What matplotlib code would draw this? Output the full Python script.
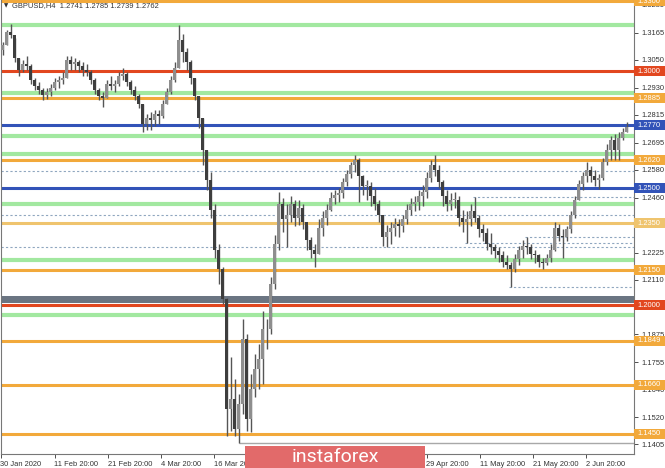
import matplotlib.pyplot as plt
import matplotlib.transforms as mtransforms
from matplotlib.patches import Rectangle

# GBPUSD H4, 30 Jan - 9 Jun 2020 (one candle per ~4 px of the picture)
highs = [1.3127, 1.3178, 1.3203, 1.3144, 1.3058, 1.3050, 1.3067, 1.3033, 1.2973, 1.2956,
         1.2930, 1.2930, 1.2947, 1.2973, 1.2981, 1.2999, 1.3067, 1.3067, 1.3058, 1.3050,
         1.3041, 1.3033, 1.3007, 1.2973, 1.2930, 1.2913, 1.2964, 1.2981, 1.2964, 1.2999,
         1.3016, 1.2999, 1.2964, 1.2939, 1.2905, 1.2862, 1.2819, 1.2828, 1.2836, 1.2836,
         1.2879, 1.2930, 1.2981, 1.3041, 1.3199, 1.3161, 1.3101, 1.3050, 1.2973, 1.2896,
         1.2802, 1.2665, 1.2571, 1.2431, 1.2260, 1.2162, 1.2033, 1.1777, 1.1683, 1.1619,
         1.1940, 1.1875, 1.1705, 1.1790, 1.1833, 1.1974, 1.1940, 1.2119, 1.2302, 1.2486,
         1.2460, 1.2431, 1.2469, 1.2452, 1.2452, 1.2431, 1.2345, 1.2290, 1.2260, 1.2367,
         1.2401, 1.2431, 1.2486, 1.2495, 1.2503, 1.2546, 1.2580, 1.2614, 1.2644, 1.2631,
         1.2559, 1.2537, 1.2529, 1.2503, 1.2452, 1.2388, 1.2345, 1.2358, 1.2375, 1.2367,
         1.2388, 1.2435, 1.2460, 1.2469, 1.2495, 1.2516, 1.2571, 1.2623, 1.2644, 1.2601,
         1.2537, 1.2495, 1.2478, 1.2486, 1.2469, 1.2409, 1.2401, 1.2431, 1.2465, 1.2384,
         1.2349, 1.2332, 1.2307, 1.2264, 1.2247, 1.2230, 1.2213, 1.2187, 1.2217, 1.2255,
         1.2281, 1.2294, 1.2264, 1.2238, 1.2221, 1.2204, 1.2221, 1.2264, 1.2358, 1.2349,
         1.2324, 1.2341, 1.2401, 1.2469, 1.2537, 1.2571, 1.2614, 1.2597, 1.2580, 1.2563,
         1.2631, 1.2691, 1.2725, 1.2734, 1.2742, 1.2759, 1.2785]
lows = [1.3071, 1.3114, 1.3144, 1.3041, 1.2981, 1.2999, 1.3007, 1.2947, 1.2922, 1.2905,
        1.2879, 1.2883, 1.2896, 1.2922, 1.2930, 1.2947, 1.2973, 1.3007, 1.3007, 1.2999,
        1.2981, 1.2981, 1.2947, 1.2905, 1.2879, 1.2849, 1.2887, 1.2922, 1.2913, 1.2939,
        1.2964, 1.2939, 1.2905, 1.2879, 1.2845, 1.2742, 1.2751, 1.2751, 1.2768, 1.2776,
        1.2802, 1.2862, 1.2905, 1.2956, 1.3016, 1.3041, 1.3007, 1.2947, 1.2879, 1.2759,
        1.2601, 1.2495, 1.2375, 1.2204, 1.2089, 1.2004, 1.1440, 1.1461, 1.1440, 1.1409,
        1.1534, 1.1461, 1.1457, 1.1606, 1.1641, 1.1662, 1.1811, 1.1875, 1.2068, 1.2238,
        1.2315, 1.2247, 1.2358, 1.2341, 1.2345, 1.2324, 1.2238, 1.2204, 1.2162, 1.2217,
        1.2298, 1.2345, 1.2401, 1.2431, 1.2443, 1.2460, 1.2512, 1.2546, 1.2571, 1.2443,
        1.2473, 1.2452, 1.2426, 1.2409, 1.2358, 1.2255, 1.2247, 1.2260, 1.2298, 1.2290,
        1.2315, 1.2349, 1.2384, 1.2401, 1.2409, 1.2426, 1.2460, 1.2529, 1.2554, 1.2503,
        1.2426, 1.2401, 1.2409, 1.2418, 1.2341, 1.2315, 1.2268, 1.2341, 1.2358, 1.2290,
        1.2273, 1.2238, 1.2221, 1.2204, 1.2187, 1.2162, 1.2153, 1.2076, 1.2144, 1.2170,
        1.2204, 1.2221, 1.2196, 1.2179, 1.2162, 1.2157, 1.2170, 1.2187, 1.2230, 1.2273,
        1.2204, 1.2273, 1.2307, 1.2375, 1.2452, 1.2495, 1.2529, 1.2529, 1.2512, 1.2499,
        1.2537, 1.2601, 1.2623, 1.2623, 1.2623, 1.2708, 1.2739]
closes = [1.3114, 1.3169, 1.3156, 1.3058, 1.3007, 1.3033, 1.3024, 1.2964, 1.2939, 1.2922,
          1.2900, 1.2913, 1.2930, 1.2956, 1.2964, 1.2973, 1.3050, 1.3033, 1.3041, 1.3024,
          1.3007, 1.2999, 1.2964, 1.2922, 1.2896, 1.2887, 1.2947, 1.2939, 1.2947, 1.2981,
          1.2990, 1.2956, 1.2922, 1.2896, 1.2862, 1.2776, 1.2802, 1.2794, 1.2819, 1.2811,
          1.2862, 1.2913, 1.2964, 1.3016, 1.3135, 1.3084, 1.3041, 1.2973, 1.2896, 1.2802,
          1.2665, 1.2537, 1.2409, 1.2238, 1.2153, 1.2025, 1.1555, 1.1598, 1.1470, 1.1577,
          1.1854, 1.1512, 1.1641, 1.1726, 1.1769, 1.1897, 1.1897, 1.2089, 1.2260, 1.2431,
          1.2367, 1.2388, 1.2431, 1.2375, 1.2418, 1.2358, 1.2281, 1.2238, 1.2217, 1.2332,
          1.2375, 1.2409, 1.2460, 1.2473, 1.2478, 1.2529, 1.2563, 1.2601, 1.2623, 1.2554,
          1.2512, 1.2512, 1.2469, 1.2435, 1.2388, 1.2290, 1.2315, 1.2332, 1.2349, 1.2341,
          1.2367, 1.2409, 1.2435, 1.2443, 1.2469, 1.2486, 1.2546, 1.2601, 1.2580, 1.2529,
          1.2469, 1.2435, 1.2452, 1.2452, 1.2375, 1.2358, 1.2367, 1.2401, 1.2375, 1.2324,
          1.2307, 1.2264, 1.2247, 1.2230, 1.2213, 1.2187, 1.2170, 1.2153, 1.2196, 1.2238,
          1.2255, 1.2247, 1.2221, 1.2213, 1.2187, 1.2179, 1.2204, 1.2238, 1.2332, 1.2298,
          1.2290, 1.2324, 1.2384, 1.2452, 1.2520, 1.2554, 1.2580, 1.2554, 1.2537, 1.2546,
          1.2614, 1.2665, 1.2708, 1.2665, 1.2717, 1.2741, 1.2762]
first_open = 1.3092

# support / resistance levels
orange_levels = [1.3300, 1.2885, 1.2620, 1.2350, 1.2150, 1.1849, 1.1660, 1.1450]
red_levels = [1.3000, 1.2000]
blue_levels = [1.2770, 1.2500]
green_levels = [1.3200, 1.2910, 1.2725, 1.2648, 1.2435, 1.2195, 1.1960]
dotted_levels = [1.2576, 1.2384, 1.2251, 1.2465, 1.2268, 1.2294, 1.2076]
dotted_start = [0, 0, 0, 118, 116, 131, 127]
band_low, band_high = 1.2008, 1.2038
march_low, march_low_bar = 1.1409, 59

# scale ticks that are not hidden by the level boxes
price_ticks = [1.3285, 1.3165, 1.3050, 1.2930, 1.2815, 1.2695, 1.2580, 1.2460,
               1.2225, 1.2110, 1.1875, 1.1755, 1.1640, 1.1520, 1.1405]
# date ticks (the ones under the watermark are not readable)
date_bars = [0, 13.5, 26.8, 40.1, 53.4, 106.5, 119.8, 133.1, 146.4]
date_labels = ['30 Jan 2020', '11 Feb 20:00', '21 Feb 20:00', '4 Mar 20:00', '16 Mar 20:00',
               '29 Apr 20:00', '11 May 20:00', '21 May 20:00', '2 Jun 20:00']

ORANGE = '#f2a93b'
ORANGE_PALE = '#efc46e'
RED = '#e2471f'
BLUE = '#3253b8'
GREEN = '#a2e8a0'
FONT = ['Liberation Sans', 'DejaVu Sans']
NARROW = ['Liberation Sans Narrow', 'Liberation Sans', 'DejaVu Sans']

W, H = 665, 468
fig = plt.figure(figsize=(W / 100, H / 100), dpi=100)
ax = fig.add_axes([0.5 / W, 14 / H, 633 / W, 454 / H])

n = len(closes)
opens = [first_open] + closes[:-1]
xs = [k + 0.5 for k in range(n)]

# levels (drawn under the candles)
for lv in green_levels:
    ax.axhline(lv, color=GREEN, lw=3.0, zorder=1)
for lv, st in zip(dotted_levels, dotted_start):
    ax.hlines(lv, st, n + 5, colors='#8fa6bf', lw=0.8, linestyles=(0, (2, 2)), zorder=1)
ax.axhspan(band_low, band_high, color='#6b7582', lw=0, zorder=1)
ax.hlines(march_low, march_low_bar + 0.5, n + 5, colors='#a8a8a8', lw=1.0, zorder=1)
for lv in orange_levels:
    c = ORANGE_PALE if lv == 1.2350 else ORANGE
    ax.axhline(lv, color=c, lw=2.2, zorder=2)
for lv in red_levels:
    ax.axhline(lv, color=RED, lw=2.2, zorder=2)
for lv in blue_levels:
    ax.axhline(lv, color=BLUE, lw=2.2, zorder=2)

# candles
ax.vlines(xs, lows, highs, colors='#555555', lw=1.0, zorder=3)
for x, o, c in zip(xs, opens, closes):
    up = c >= o
    ax.bar(x, abs(c - o) if abs(c - o) > 0.0003 else 0.0003, bottom=min(o, c), width=0.6,
           color='#8e8e8e' if up else '#3e3e3e', lw=0, zorder=4)

ax.set_xlim(0, 633 / 4)
ax.set_ylim(1.13634, 1.33059)

# price scale on the right
ax.yaxis.tick_right()
ax.set_yticks(price_ticks)
ax.set_yticklabels([f'{p:.4f}' for p in price_ticks], family=FONT)
ax.tick_params(axis='y', labelsize=5.4, colors='#333333', length=3, width=0.6, pad=2.5)
ax.set_xticks(date_bars)
ax.set_xticklabels(date_labels, family=NARROW)
ax.tick_params(axis='x', labelsize=5.4, colors='#333333', length=3, width=0.6, pad=2)
for lbl in ax.get_xticklabels():
    lbl.set_horizontalalignment('left')

ax.spines['top'].set_visible(False)
for side in ['left', 'right', 'bottom']:
    ax.spines[side].set_color('#777777')
    ax.spines[side].set_linewidth(0.8)

# coloured price boxes on the scale
trans = mtransforms.blended_transform_factory(fig.transFigure, ax.transData)
box_h = 10 * (1.33059 - 1.13634) / 454
boxes = [(lv, ORANGE_PALE if lv == 1.2350 else ORANGE) for lv in orange_levels]
boxes += [(lv, RED) for lv in red_levels] + [(lv, BLUE) for lv in blue_levels]
for lv, c in boxes:
    ax.add_patch(Rectangle((634 / W, lv - box_h / 2), 31 / W, box_h, transform=trans,
                           facecolor=c, edgecolor='none', clip_on=False, zorder=6))
    ax.text(637 / W, lv, f'{lv:.4f}', transform=trans, color='white', fontsize=5.4,
            family=FONT, va='center', ha='left', clip_on=False, zorder=7)

# header
fig.text(4 / W, 1 - 6 / H, '\u25bc', fontsize=4, color='#333333', va='center')
fig.text(12 / W, 1 - 6 / H,
         f'GBPUSD,H4  {opens[-1]:.4f} {highs[-1]:.4f} {lows[-1]:.4f} {closes[-1]:.4f}',
         fontsize=5.4, family=FONT, color='#333333', va='center')

# watermark
fig.patches.append(Rectangle((245 / W, 0), 180 / W, 22 / H, transform=fig.transFigure,
                             facecolor='#e26a6a', edgecolor='none', zorder=10))
fig.text(335 / W, 11 / H, 'instaforex', fontsize=14, family='Roboto', color='white',
         ha='center', va='center', zorder=11)

fig.savefig('out.png', dpi=100, facecolor='white')
